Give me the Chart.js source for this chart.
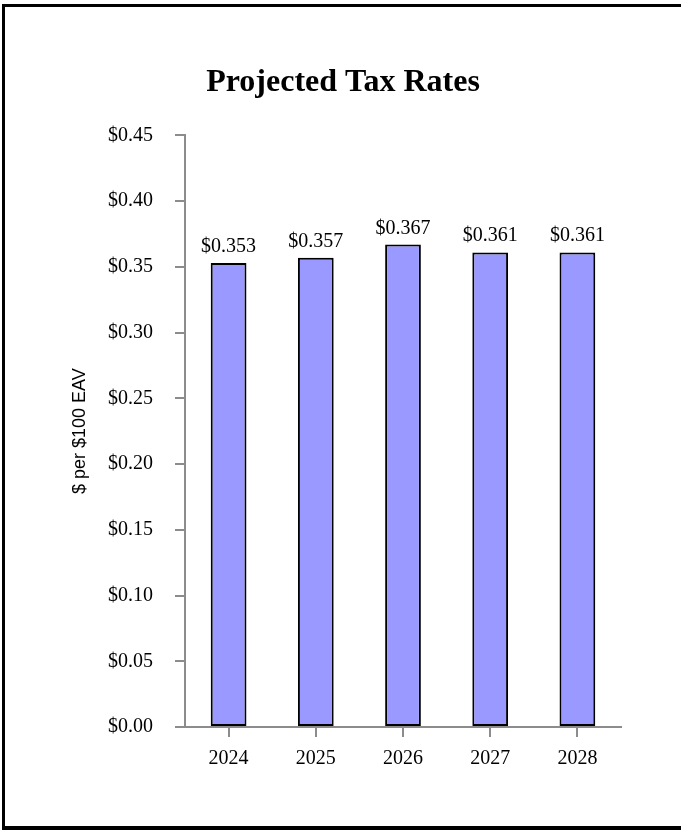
<!DOCTYPE html>
<html>
<head>
<meta charset="utf-8">
<title>Projected Tax Rates</title>
<script src="https://cdn.jsdelivr.net/npm/chart.js@4.4.1/dist/chart.umd.min.js"></script>
<style>
    body { margin: 0; background: #fff; }
    #frame {
        position: absolute;
        left: 2px;
        top: 4px;
        width: 800px;
        height: 826px;
        border: 3px solid #000;
        border-bottom-width: 4px;
        box-sizing: border-box;
    }
    #taxChart { position: absolute; left: 0; top: 0; }
</style>
</head>
<body>
<canvas id="taxChart" width="681" height="830"></canvas>
<div id="frame"></div>
<script>
// Data of the chart
const years = ['2024', '2025', '2026', '2027', '2028'];
const taxRates = [0.353, 0.357, 0.367, 0.361, 0.361];
const yTicks = [0, 0.05, 0.10, 0.15, 0.20, 0.25, 0.30, 0.35, 0.40, 0.45];

const serif = "'Liberation Serif', 'Times New Roman', serif";
const axisGrey = '#8c8c8c';

// Write the value above every bar
const barLabels = {
    id: 'barLabels',
    afterDatasetsDraw(chart) {
        const ctx = chart.ctx;
        const meta = chart.getDatasetMeta(0);
        ctx.save();
        ctx.font = '20px ' + serif;
        ctx.fillStyle = '#000';
        ctx.textAlign = 'center';
        ctx.textBaseline = 'alphabetic';
        meta.data.forEach((bar, i) => {
            ctx.fillText('$' + taxRates[i].toFixed(3), bar.x, bar.y - 11);
        });
        ctx.restore();
    }
};

function drawTaxChart() {
    const ctx = document.getElementById('taxChart').getContext('2d');
    new Chart(ctx, {
        type: 'bar',
        data: {
            labels: years,
            datasets: [{
                data: taxRates,
                backgroundColor: '#9999ff',
                borderColor: '#000',
                borderWidth: 2,
                borderSkipped: false,
                barPercentage: 0.41,
                categoryPercentage: 1
            }]
        },
        options: {
            responsive: false,
            animation: false,
            layout: {
                padding: { left: 65, right: 60, top: 0, bottom: 33 }
            },
            plugins: {
                legend: { display: false },
                tooltip: { enabled: false },
                title: {
                    display: true,
                    text: 'Projected Tax Rates',
                    color: '#000',
                    font: { family: serif, size: 32, weight: 'bold' },
                    padding: { top: 64, bottom: 33 }
                }
            },
            scales: {
                x: {
                    grid: {
                        display: true,
                        offset: false,
                        drawOnChartArea: false,
                        color: axisGrey,
                        lineWidth: 2,
                        tickLength: 10
                    },
                    border: { color: axisGrey, width: 2 },
                    ticks: {
                        color: '#000',
                        font: { family: serif, size: 20 },
                        padding: 10
                    },
                    afterFit(scale) {
                        scale.height = 70;
                    }
                },
                y: {
                    min: 0,
                    max: 0.45,
                    afterBuildTicks(scale) {
                        scale.ticks = yTicks.map(v => ({ value: v }));
                    },
                    grid: {
                        display: true,
                        drawOnChartArea: false,
                        color: axisGrey,
                        lineWidth: 2,
                        tickLength: 10
                    },
                    border: { color: axisGrey, width: 2 },
                    ticks: {
                        color: '#000',
                        font: { family: serif, size: 20 },
                        padding: 22,
                        callback: v => '$' + v.toFixed(2)
                    },
                    title: {
                        display: true,
                        text: '$ per $100 EAV',
                        color: '#000',
                        font: { family: "'Liberation Sans', Arial, sans-serif", size: 18 }
                    },
                    afterFit(scale) {
                        scale.width = 120;
                    }
                }
            }
        },
        plugins: [barLabels]
    });
}

drawTaxChart();
</script>
</body>
</html>
